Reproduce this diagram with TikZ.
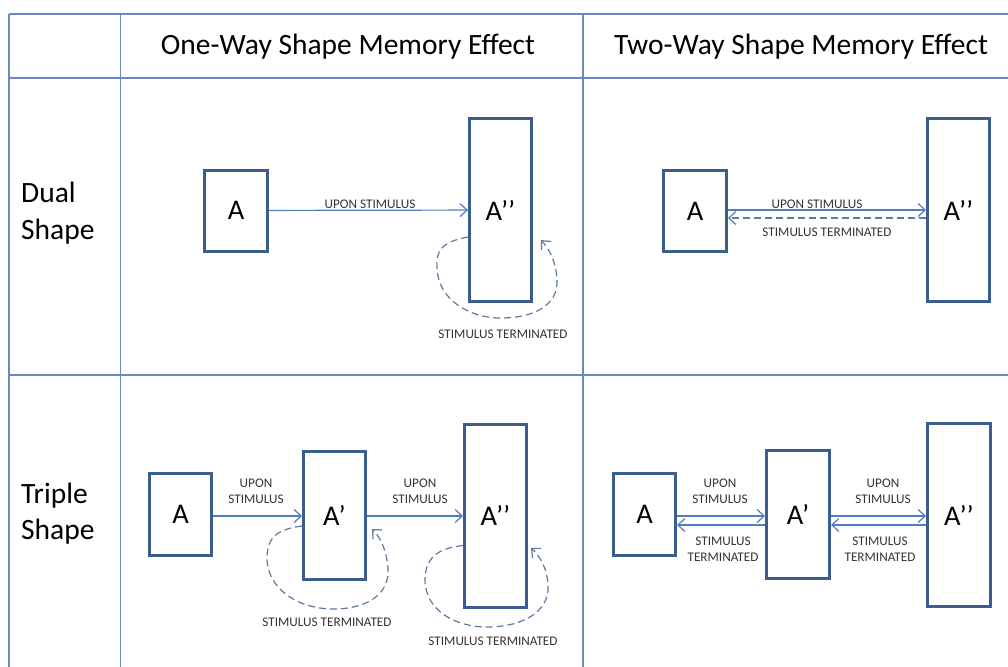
\documentclass[tikz,border=0pt]{standalone}
\usepackage{fontspec}
\setmainfont{Carlito}
\usetikzlibrary{arrows.meta}
\definecolor{gridc}{HTML}{6A8BBF}
\definecolor{boxc}{HTML}{3A5F8E}
\definecolor{arrc}{HTML}{4F7FBC}
\definecolor{dashc}{HTML}{5F7A9E}
\definecolor{txt}{HTML}{333333}
\tikzset{
  gridline/.style={draw=gridc, line width=1.3pt},
  shapebox/.style={draw=boxc, line width=3pt, inner sep=0pt, fill=white, font=\fontsize{28.5}{30}\selectfont},
  arr/.style={draw=arrc, line width=1.2pt, -{Straight Barb[length=7pt,width=13pt]}},
  dasharr/.style={arr, draw=dashc, dash pattern=on 7pt off 4pt},
  lbl/.style={font=\fontsize{13.2}{16}\selectfont, text=txt, inner sep=0pt, align=center},
  head/.style={font=\fontsize{29.5}{36.5}\selectfont, inner sep=0pt, align=left}
}
\begin{document}
\begin{tikzpicture}[x=1pt,y=-1pt]
\useasboundingbox (0,0) rectangle (1008,666);
\clip (0,0) rectangle (1008,666);
% grid
\draw[gridline] (9,14) -- (1012,14);
\draw[gridline] (9,78) -- (1012,78);
\draw[gridline] (9,375) -- (1012,375);
\draw[gridline] (9,14) -- (9,670);
\draw[gridline] (120.5,14) -- (120.5,670);
\draw[gridline] (583,14) -- (583,670);
% headers
\node[head] (h1) at (348,47) {One-Way Shape Memory Effect};
\node[head] (h2) at (801,47) {Two-Way Shape Memory Effect};
\node[head, anchor=west] (r1) at (21,213) {Dual\\Shape};
\node[head, anchor=west] (r2) at (21,513.5) {Triple\\Shape};

% ---- row 1, one-way
\node[shapebox, minimum width=63pt, minimum height=81pt] (oA) at (236,210.5) {A};
\node[shapebox, minimum width=62pt, minimum height=183pt] (oApp) at (500.5,210) {A’’};
\draw[arr] (oA) -- (oApp);
\node[lbl] (oL1) at (370,204) {UPON STIMULUS};
\coordinate (oE1) at (541,240);
\draw[dasharr] ([yshift=-27pt]oApp.west) .. controls (440,242) and (436,252) .. (437,268)
  .. controls (438,300) and (470,318) .. (500,318)
  .. controls (535,318) and (558,305) .. (557,280)
  .. controls (556,262) and (550,250) .. (oE1);
\node[lbl] (oL2) at (503,334) {STIMULUS TERMINATED};

% ---- row 1, two-way
\node[shapebox, minimum width=63pt, minimum height=81pt] (tA) at (695,211) {A};
\node[shapebox, minimum width=62pt, minimum height=183pt] (tApp) at (958.5,210) {A’’};
\draw[arr] ([yshift=1pt]tA.east) -- ([yshift=1pt]tA.east -| tApp.west);
\draw[dasharr] ([yshift=-7pt]tA.east -| tApp.west) -- ([yshift=-7pt]tA.east);
\node[lbl] (tL1) at (817,204.5) {UPON STIMULUS};
\node[lbl] (tL2) at (827,232) {STIMULUS TERMINATED};

% ---- row 2, one-way
\node[shapebox, minimum width=62pt, minimum height=82pt] (oB) at (180.5,514.5) {A};
\node[shapebox, minimum width=62pt, minimum height=128pt] (oBp) at (334.5,515) {A’};
\node[shapebox, minimum width=62pt, minimum height=183pt] (oBpp) at (495.5,515.5) {A’’};
\draw[arr] ([yshift=-1.5pt]oB.east) -- ([yshift=-1.5pt]oB.east -| oBp.west);
\draw[arr] ([yshift=-1pt]oBp.east) -- ([yshift=-1pt]oBp.east -| oBpp.west);
\node[lbl] (oL3) at (256,491) {UPON\\STIMULUS};
\node[lbl] (oL4) at (420,491) {UPON\\STIMULUS};
\coordinate (oE2) at (372,529);
\draw[dasharr] ([yshift=-11pt]oBp.west) .. controls (280,529) and (268,535) .. (267,556)
  .. controls (266,590) and (300,609) .. (333,609)
  .. controls (370,609) and (390,592) .. (388,568)
  .. controls (387,552) and (381,538) .. (oE2);
\node[lbl] (oL5) at (327,622) {STIMULUS TERMINATED};
\coordinate (oE3) at (531,548);
\draw[dasharr] ([yshift=-30pt]oBpp.west) .. controls (440,548) and (426,556) .. (425,578)
  .. controls (424,610) and (455,627) .. (487,627)
  .. controls (525,627) and (550,610) .. (548,585)
  .. controls (547,568) and (540,556) .. (oE3);
\node[lbl] (oL6) at (493,641) {STIMULUS TERMINATED};

% ---- row 2, two-way
\node[shapebox, minimum width=62pt, minimum height=82pt] (tB) at (644.5,514.5) {A};
\node[shapebox, minimum width=63pt, minimum height=128pt] (tBp) at (798,514.5) {A’};
\node[shapebox, minimum width=63pt, minimum height=183pt] (tBpp) at (959,515) {A’’};
\draw[arr] ([yshift=-1.5pt]tB.east) -- ([yshift=-1.5pt]tB.east -| tBp.west);
\draw[arr] ([yshift=-10.5pt]tB.east -| tBp.west) -- ([yshift=-10.5pt]tB.east);
\draw[arr] ([yshift=-1.5pt]tBp.east) -- ([yshift=-1.5pt]tBp.east -| tBpp.west);
\draw[arr] ([yshift=-10.5pt]tBp.east -| tBpp.west) -- ([yshift=-10.5pt]tBp.east);
\node[lbl] (tL3) at (720,491) {UPON\\STIMULUS};
\node[lbl] (tL4) at (723,549.5) {STIMULUS\\TERMINATED};
\node[lbl] (tL5) at (883,491) {UPON\\STIMULUS};
\node[lbl] (tL6) at (880,549.5) {STIMULUS\\TERMINATED};
\end{tikzpicture}
\end{document}
